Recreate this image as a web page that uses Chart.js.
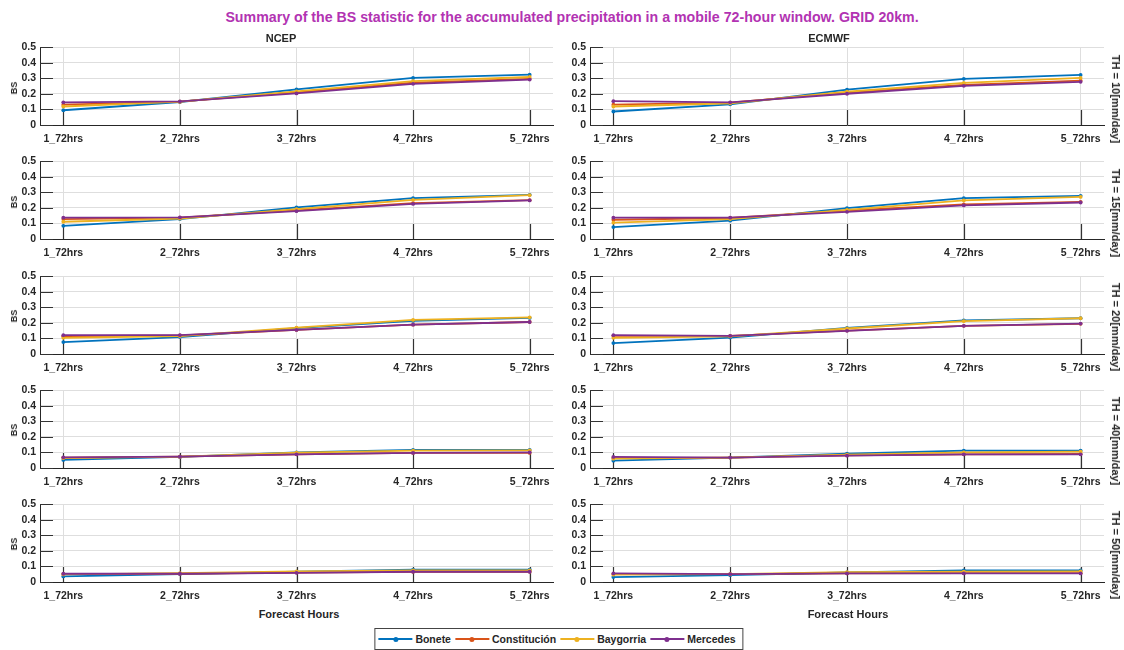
<!DOCTYPE html>
<html>
<head>
<meta charset="utf-8">
<script src="https://cdn.jsdelivr.net/npm/chart.js@4.4.1/dist/chart.umd.min.js"></script>
<style>
  body { margin: 0; width: 1124px; height: 650px; overflow: hidden; position: relative; background: #fff;
         font-family: "Liberation Sans", Arial, sans-serif; color: #262626; }
  canvas { position: absolute; }
  .lbl { position: absolute; white-space: nowrap; font-weight: bold; }
  .rot-l { transform: translate(-50%, -50%) rotate(-90deg); }
  .rot-r { transform: translate(-50%, -50%) rotate(90deg); }
  .ctr { transform: translate(-50%, -50%); }
  #legend { position: absolute; left: 559px; top: 628px; transform: translateX(-50%); height: 20px;
            border: 1px solid #444; background: #fff; display: flex; align-items: center; padding: 0 3px 0 3px;
            font-weight: bold; font-size: 10.5px; }
  .item { display: flex; align-items: center; margin-right: 4px; }
  .swatch { position: relative; width: 34px; height: 2px; margin-right: 3px; }
  .swatch i { position: absolute; left: 14.5px; top: -1.5px; width: 5px; height: 5px; border-radius: 50%; }
</style>
</head>
<body>
<div class="lbl ctr" id="title" style="left:572px;top:17px;font-size:14.2px;color:#b233b2">Summary of the BS statistic for the accumulated precipitation in a mobile 72-hour window. GRID 20km.</div>
<div id="legend"></div>

<script>
// ── Datos ──
const forecastHours = ['1_72hrs', '2_72hrs', '3_72hrs', '4_72hrs', '5_72hrs'];
const stations      = ['Bonete', 'Constitución', 'Baygorria', 'Mercedes'];
const stationColors = ['#0072BD', '#D95319', '#EDB120', '#7E2F8E'];
const models        = ['NCEP', 'ECMWF'];
const thresholds    = ['TH = 10[mm/day]', 'TH = 15[mm/day]', 'TH = 20[mm/day]', 'TH = 40[mm/day]', 'TH = 50[mm/day]'];
const yTickLabels   = ['0', '0.1', '0.2', '0.3', '0.4', '0.5'];

// filas: Bonete, Constitución, Baygorria, Mercedes
const ncep10 = [
  [0.095, 0.148, 0.229, 0.303, 0.324],
  [0.131, 0.150, 0.210, 0.272, 0.297],
  [0.119, 0.150, 0.216, 0.282, 0.309],
  [0.146, 0.152, 0.203, 0.265, 0.292]
];
const ecmwf10 = [
  [0.087, 0.133, 0.227, 0.297, 0.322],
  [0.131, 0.144, 0.208, 0.258, 0.286],
  [0.119, 0.140, 0.214, 0.271, 0.303],
  [0.153, 0.146, 0.201, 0.252, 0.278]
];
const ncep15 = [
  [0.085, 0.128, 0.203, 0.263, 0.284],
  [0.128, 0.137, 0.184, 0.231, 0.250],
  [0.111, 0.132, 0.192, 0.252, 0.282],
  [0.137, 0.139, 0.179, 0.226, 0.248]
];
const ecmwf15 = [
  [0.077, 0.118, 0.199, 0.263, 0.278],
  [0.124, 0.135, 0.182, 0.222, 0.239],
  [0.105, 0.128, 0.188, 0.248, 0.271],
  [0.137, 0.137, 0.175, 0.216, 0.235]
];
const ncep20 = [
  [0.077, 0.109, 0.166, 0.213, 0.232],
  [0.115, 0.119, 0.155, 0.189, 0.206],
  [0.104, 0.115, 0.170, 0.219, 0.236],
  [0.121, 0.121, 0.155, 0.189, 0.206]
];
const ecmwf20 = [
  [0.070, 0.106, 0.168, 0.217, 0.230],
  [0.117, 0.117, 0.151, 0.181, 0.194],
  [0.104, 0.113, 0.164, 0.211, 0.230],
  [0.121, 0.117, 0.149, 0.181, 0.196]
];
const ncep40 = [
  [0.052, 0.071, 0.101, 0.116, 0.116],
  [0.067, 0.073, 0.088, 0.097, 0.097],
  [0.064, 0.073, 0.099, 0.112, 0.114],
  [0.069, 0.073, 0.088, 0.097, 0.101]
];
const ecmwf40 = [
  [0.047, 0.067, 0.092, 0.112, 0.112],
  [0.064, 0.067, 0.082, 0.088, 0.090],
  [0.060, 0.067, 0.086, 0.101, 0.105],
  [0.071, 0.067, 0.079, 0.088, 0.088]
];
const ncep50 = [
  [0.036, 0.051, 0.066, 0.080, 0.080],
  [0.051, 0.053, 0.061, 0.066, 0.066],
  [0.049, 0.057, 0.068, 0.074, 0.074],
  [0.053, 0.053, 0.059, 0.066, 0.066]
];
const ecmwf50 = [
  [0.032, 0.044, 0.061, 0.074, 0.074],
  [0.051, 0.051, 0.055, 0.057, 0.057],
  [0.047, 0.051, 0.064, 0.066, 0.068],
  [0.055, 0.051, 0.055, 0.055, 0.055]
];

const panels = [
  [ncep10, ecmwf10],
  [ncep15, ecmwf15],
  [ncep20, ecmwf20],
  [ncep40, ecmwf40],
  [ncep50, ecmwf50]
];

// ── Разположение ──
const colLeft  = [40, 590];
const colWidth = [513, 514];
const rowTop0  = 47.5;
const rowStep  = 114.2;
const plotH    = 80;
const PAD_L = 40, PAD_T = 8, PAD_R = 14, AX_H = 26;

// MATLAB-подобни чертички навътре
const inwardTicks = {
  id: 'inwardTicks',
  beforeDatasetsDraw(chart) {
    const { ctx, chartArea: a, scales: { x, y } } = chart;
    ctx.save();
    ctx.strokeStyle = '#333';
    ctx.lineWidth = 1.2;
    ctx.beginPath();
    y.ticks.forEach(t => {
      const py = Math.round(y.getPixelForValue(t.value)) + 0.5;
      ctx.moveTo(a.left, py); ctx.lineTo(a.left + 13, py);
    });
    x.ticks.forEach(t => {
      const px = Math.round(x.getPixelForValue(t.value)) + 0.5;
      ctx.moveTo(px, a.bottom); ctx.lineTo(px, a.bottom - 15);
    });
    ctx.stroke();
    ctx.restore();
  }
};

function addLabel(text, x, y, cls, size) {
  const d = document.createElement('div');
  d.className = 'lbl ' + cls;
  d.style.left = x + 'px';
  d.style.top = y + 'px';
  d.style.fontSize = size + 'px';
  d.textContent = text;
  document.body.appendChild(d);
}

const tickFont = { family: '"Liberation Sans", Arial, sans-serif', size: 10.5, weight: 'bold' };

panels.forEach((row, r) => {
  const top = rowTop0 + rowStep * r;
  row.forEach((series, c) => {
    const cv = document.createElement('canvas');
    const w = PAD_L + colWidth[c] + PAD_R;
    const h = PAD_T + plotH + AX_H;
    cv.width = w; cv.height = h;
    document.body.appendChild(cv);

    const chart = new Chart(cv, {
      type: 'line',
      data: {
        datasets: series.map((vals, i) => ({
          label: stations[i],
          data: vals.map((v, k) => ({ x: k + 1, y: v })),
          borderColor: stationColors[i],
          backgroundColor: stationColors[i],
          borderWidth: 1.8,
          pointRadius: 1.9,
          pointBorderWidth: 0,
          pointBackgroundColor: stationColors[i],
          order: stations.length - i,
          tension: 0
        }))
      },
      options: {
        responsive: false,
        animation: false,
        devicePixelRatio: 1,
        events: [],
        layout: { padding: { top: PAD_T, right: PAD_R, left: 0, bottom: 0 } },
        plugins: { legend: { display: false }, tooltip: { enabled: false } },
        scales: {
          x: {
            type: 'linear',
            min: 0.8, max: 5.2,
            afterBuildTicks: s => { s.ticks = forecastHours.map((_, k) => ({ value: k + 1 })); },
            afterFit: s => { s.height = AX_H; },
            grid: { color: '#dedede', drawTicks: false },
            border: { display: true, color: '#262626', width: 1 },
            ticks: {
              color: '#262626', font: tickFont, padding: 8, maxRotation: 0, autoSkip: false,
              callback: v => forecastHours[v - 1]
            }
          },
          y: {
            min: 0, max: 0.5,
            afterBuildTicks: s => { s.ticks = yTickLabels.map(t => ({ value: Number(t) })); },
            afterFit: s => { s.width = PAD_L; },
            grid: { color: '#dedede', drawTicks: false },
            border: { display: true, color: '#262626', width: 1 },
            ticks: {
              color: '#262626', font: tickFont, padding: 4, autoSkip: false,
              callback: (v, i) => yTickLabels[i]
            }
          }
        }
      },
      plugins: [inwardTicks]
    });

    // ajustar la altura del área de trazado y su posición
    let a = chart.chartArea;
    const dh = plotH - (a.bottom - a.top);
    if (Math.abs(dh) > 0.01) {
      chart.resize(w, h + dh);
      a = chart.chartArea;
    }
    cv.style.left = (colLeft[c] - a.left) + 'px';
    cv.style.top = (top - a.top) + 'px';

    if (c === 0) addLabel('BS', 14, top + plotH / 2, 'rot-l', 9);
  });
  addLabel(thresholds[r], 1116, top + plotH / 2 + 11, 'rot-r', 11);
});

addLabel(models[0], 281, 38, 'ctr', 11);
addLabel(models[1], 829, 38, 'ctr', 11);
addLabel('Forecast Hours', 299, 614, 'ctr', 11);
addLabel('Forecast Hours', 848, 614, 'ctr', 11);

// Легенда
const legend = document.getElementById('legend');
stations.forEach((s, i) => {
  const it = document.createElement('div');
  it.className = 'item';
  it.innerHTML = `<div class="swatch" style="background:${stationColors[i]}"><i style="background:${stationColors[i]}"></i></div><span>${s}</span>`;
  legend.appendChild(it);
});
</script>
</body>
</html>
